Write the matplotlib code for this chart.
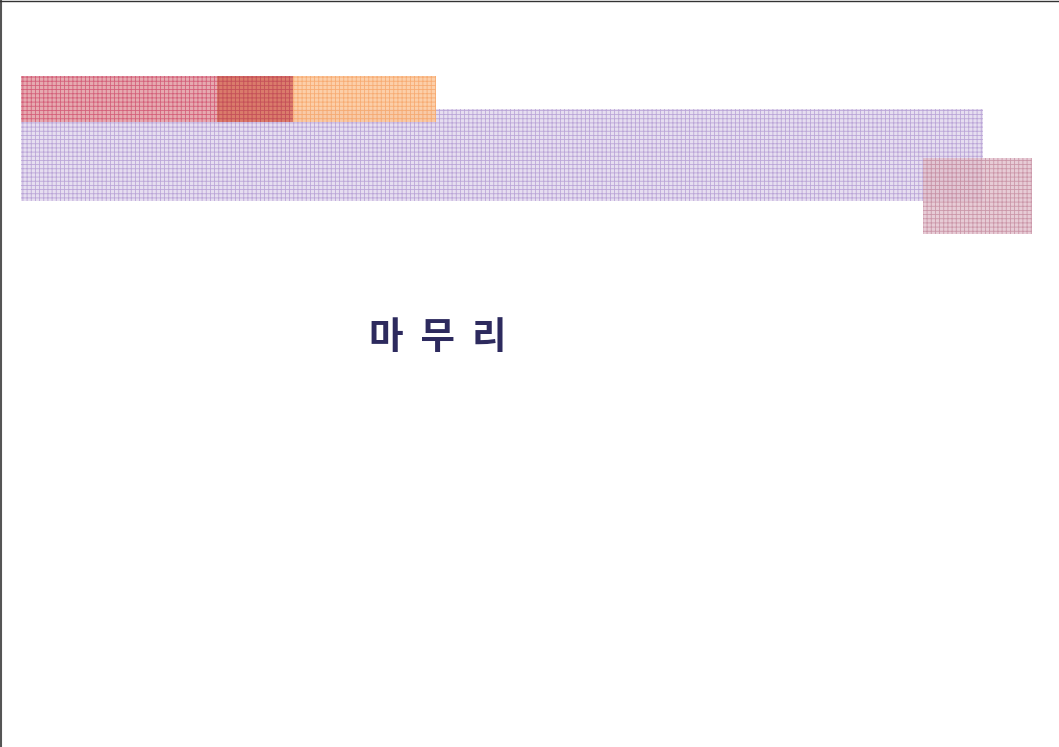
import matplotlib
matplotlib.use("Agg")
import matplotlib.pyplot as plt
from matplotlib.patches import Rectangle

WIDTH = 1059
HEIGHT = 747
DPI = 100

TITLE = "마  무  리"
TITLE_COLOR = "#2d2a5e"

# decorative bars: (x, y, w, h, face, hatch colour, alpha, zorder)
BARS = [
    (21, 109, 962, 92, "#e6def0", "#bba6d8", 1.0, 1),
    (923, 158, 109, 76, "#e2c0cc", "#c48a9e", 0.8, 2),
    (21, 76, 272, 46, "#e6aab0", "#d4607a", 1.0, 3),
    (217, 76, 76, 46, "#d8735f", "#c24c58", 0.85, 4),
    (293, 76, 143, 46, "#fcc79a", "#f7a66a", 0.85, 3),
]


def draw_bars(ax):
    plt.rcParams["hatch.linewidth"] = 0.6
    for x, y, w, h, face, line, alpha, z in BARS:
        rect = Rectangle((x, y), w, h, facecolor=face, edgecolor=line,
                         hatch="++++", linewidth=0, alpha=alpha, zorder=z)
        ax.add_patch(rect)


def main():
    fig = plt.figure(figsize=(WIDTH / DPI, HEIGHT / DPI), dpi=DPI)
    ax = fig.add_axes([0, 0, 1, 1])
    ax.set_xlim(0, WIDTH)
    ax.set_ylim(HEIGHT, 0)
    ax.axis("off")

    draw_bars(ax)

    # slide border (left and top)
    ax.plot([1, 1], [0, HEIGHT], color="#555555", linewidth=1.5, zorder=10)
    ax.plot([0, WIDTH], [0.5, 0.5], color="#333333", linewidth=1.0, zorder=10)

    ax.text(438, 338, TITLE, fontsize=27, fontweight="bold", color=TITLE_COLOR,
            family=["Noto Sans CJK KR", "DejaVu Sans"],
            ha="center", va="center", zorder=10)

    fig.savefig("out.png", dpi=DPI)


if __name__ == "__main__":
    main()
